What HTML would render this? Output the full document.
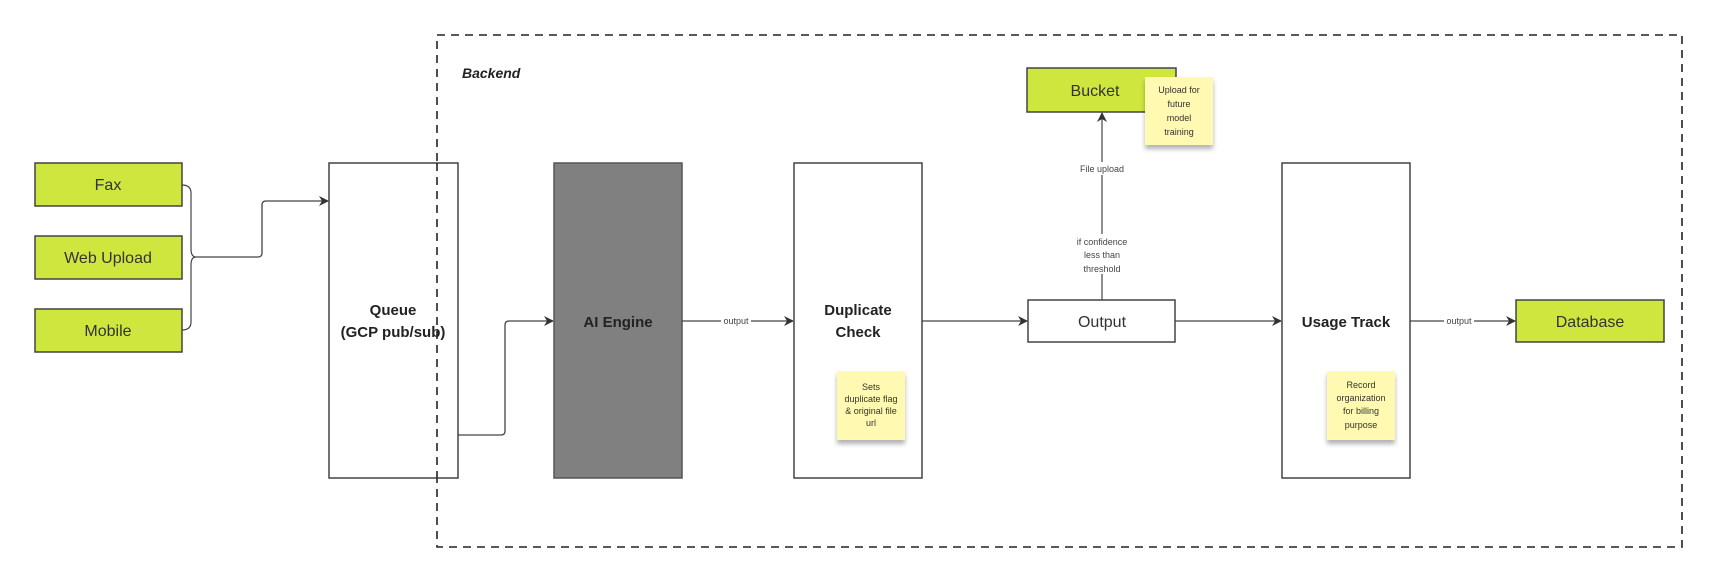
<!DOCTYPE html>
<html><head><meta charset="utf-8"><style>
html,body{margin:0;padding:0;background:#fff;}
svg{display:block;font-family:"Liberation Sans",sans-serif;}
</style></head><body>
<svg width="1716" height="582" viewBox="0 0 1716 582" xmlns="http://www.w3.org/2000/svg">
<defs>
<marker id="a" markerWidth="10" markerHeight="10" refX="9" refY="5" orient="auto" markerUnits="userSpaceOnUse">
<path d="M0,0 L10,5 L0,10 L3,5 Z" fill="#333"/></marker>
<filter id="sh" x="-20%" y="-20%" width="140%" height="150%"><feDropShadow dx="0" dy="4" stdDeviation="2.5" flood-color="#000" flood-opacity="0.3"/></filter>
</defs>
<rect width="1716" height="582" fill="#fff"/>
<!-- dashed backend -->
<rect x="437" y="35" width="1245" height="512" fill="none" stroke="#222" stroke-width="1.6" stroke-dasharray="8,6"/>
<text x="462" y="78" font-size="14" font-weight="bold" font-style="italic" fill="#222">Backend</text>

<!-- source boxes -->
<g stroke="#444" stroke-width="1.5" fill="#cfe63f">
<rect x="35" y="163" width="147" height="43"/>
<rect x="35" y="236" width="147" height="43"/>
<rect x="35" y="309" width="147" height="43"/>
</g>
<g font-size="16" fill="#333" text-anchor="middle">
<text x="108" y="190">Fax</text>
<text x="108" y="263">Web Upload</text>
<text x="108" y="336">Mobile</text>
</g>
<!-- bracket -->
<path d="M182,185 Q191,185 191,193 L191,249 Q191,257 196,257 Q191,257 191,265 L191,322 Q191,330 182,330" fill="none" stroke="#444" stroke-width="1.2"/>
<path d="M196,257 L258,257 Q262,257 262,253 L262,205 Q262,201 266,201 L328,201" fill="none" stroke="#444" stroke-width="1.3" marker-end="url(#a)"/>

<!-- Queue -->
<rect x="329" y="163" width="129" height="315" fill="#fff" stroke="#444" stroke-width="1.5"/>
<g font-size="15" font-weight="bold" fill="#222" text-anchor="middle">
<text x="393" y="315">Queue</text>
<text x="393" y="337">(GCP pub/sub)</text>
</g>
<line x1="437" y1="163" x2="437" y2="478" stroke="#222" stroke-width="1.6" stroke-dasharray="8,6"/>

<path d="M458,435 L501,435 Q505,435 505,431 L505,325 Q505,321 509,321 L553,321" fill="none" stroke="#444" stroke-width="1.3" marker-end="url(#a)"/>

<!-- AI Engine -->
<rect x="554" y="163" width="128" height="315" fill="#808080" stroke="#555" stroke-width="1.5"/>
<text x="618" y="327" font-size="15" font-weight="bold" fill="#222" text-anchor="middle">AI Engine</text>

<line x1="682" y1="321" x2="793" y2="321" stroke="#444" stroke-width="1.3" marker-end="url(#a)"/>
<rect x="721" y="315" width="30" height="12" fill="#fff"/>
<text x="736" y="324" font-size="9" fill="#444" text-anchor="middle">output</text>

<!-- Duplicate Check -->
<rect x="794" y="163" width="128" height="315" fill="#fff" stroke="#444" stroke-width="1.5"/>
<g font-size="15" font-weight="bold" fill="#222" text-anchor="middle">
<text x="858" y="315">Duplicate</text>
<text x="858" y="337">Check</text>
</g>
<rect x="837" y="371" width="68" height="69" fill="#fff9b1" filter="url(#sh)"/>
<g font-size="9" fill="#333" text-anchor="middle">
<text x="871" y="390">Sets</text>
<text x="871" y="402">duplicate flag</text>
<text x="871" y="414">&amp; original file</text>
<text x="871" y="426">url</text>
</g>

<line x1="922" y1="321" x2="1027" y2="321" stroke="#444" stroke-width="1.3" marker-end="url(#a)"/>

<!-- Output -->
<rect x="1028" y="300" width="147" height="42" fill="#fff" stroke="#444" stroke-width="1.5"/>
<text x="1102" y="327" font-size="16" fill="#333" text-anchor="middle">Output</text>

<line x1="1102" y1="300" x2="1102" y2="113" stroke="#444" stroke-width="1.2" marker-end="url(#a)"/>
<rect x="1075" y="162" width="54" height="13" fill="#fff"/>
<text x="1102" y="172" font-size="9" fill="#444" text-anchor="middle">File upload</text>
<rect x="1070" y="234" width="64" height="40" fill="#fff"/>
<g font-size="9" fill="#444" text-anchor="middle">
<text x="1102" y="245">if confidence</text>
<text x="1102" y="258">less than</text>
<text x="1102" y="272">threshold</text>
</g>

<!-- Bucket -->
<rect x="1027" y="68" width="149" height="44" fill="#cfe63f" stroke="#444" stroke-width="1.5"/>
<text x="1095" y="96" font-size="16" fill="#333" text-anchor="middle">Bucket</text>
<rect x="1145" y="77" width="68" height="68" fill="#fff9b1" filter="url(#sh)"/>
<g font-size="9" fill="#333" text-anchor="middle">
<text x="1179" y="93">Upload for</text>
<text x="1179" y="107">future</text>
<text x="1179" y="121">model</text>
<text x="1179" y="135">training</text>
</g>

<line x1="1175" y1="321" x2="1281" y2="321" stroke="#444" stroke-width="1.3" marker-end="url(#a)"/>

<!-- Usage Track -->
<rect x="1282" y="163" width="128" height="315" fill="#fff" stroke="#444" stroke-width="1.5"/>
<text x="1346" y="327" font-size="15" font-weight="bold" fill="#222" text-anchor="middle">Usage Track</text>
<rect x="1327" y="371" width="68" height="69" fill="#fff9b1" filter="url(#sh)"/>
<g font-size="9" fill="#333" text-anchor="middle">
<text x="1361" y="388">Record</text>
<text x="1361" y="401">organization</text>
<text x="1361" y="414">for billing</text>
<text x="1361" y="428">purpose</text>
</g>

<line x1="1410" y1="321" x2="1515" y2="321" stroke="#444" stroke-width="1.3" marker-end="url(#a)"/>
<rect x="1444" y="315" width="30" height="12" fill="#fff"/>
<text x="1459" y="324" font-size="9" fill="#444" text-anchor="middle">output</text>

<!-- Database -->
<rect x="1516" y="300" width="148" height="42" fill="#cfe63f" stroke="#444" stroke-width="1.5"/>
<text x="1590" y="327" font-size="16" fill="#333" text-anchor="middle">Database</text>
</svg>
</body></html>
